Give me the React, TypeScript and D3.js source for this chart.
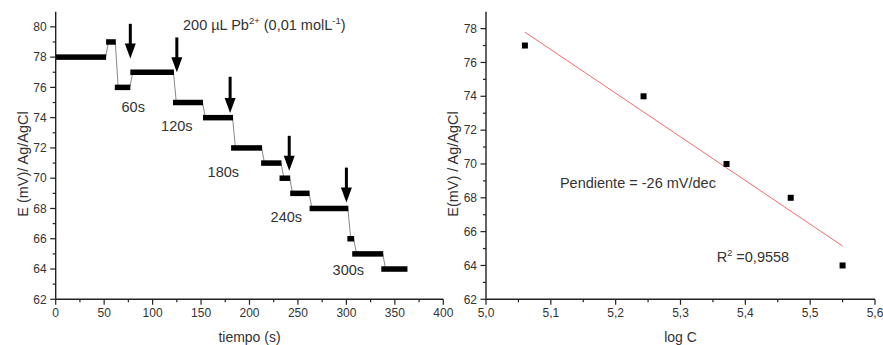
import React from "react";
import * as d3 from "d3";

// ---------- Left chart data ----------
const stepStart = [0, 52, 61, 77, 121, 152, 181, 212, 231, 242, 262, 301, 306, 336];
const stepEnd = [52, 62, 77, 122, 152, 183, 213, 233, 242, 262, 302, 308, 338, 363];
const stepValue = [78, 79, 76, 77, 75, 74, 72, 71, 70, 69, 68, 66, 65, 64];

const arrowTime = [77, 125, 180, 241, 300];
const arrowTop = [80.2, 79.3, 76.7, 72.8, 70.7];
const arrowTip = [77.9, 77.0, 74.3, 70.5, 68.4];

const timeLabels = ["60s", "120s", "180s", "240s", "300s"];
const timeLabelX = [80, 125, 173, 238, 302];
const timeLabelY = [74.7, 73.45, 70.4, 67.45, 63.95];

const leftXTicks = [0, 50, 100, 150, 200, 250, 300, 350, 400];
const leftYTicks = [62, 64, 66, 68, 70, 72, 74, 76, 78, 80];

// ---------- Right chart data ----------
const logC = [5.06, 5.243, 5.371, 5.47, 5.55];
const potential = [77, 74, 70, 68, 64];

const rightXTicks = [5.0, 5.1, 5.2, 5.3, 5.4, 5.5, 5.6];
const rightYTicks = [62, 64, 66, 68, 70, 72, 74, 76, 78];

const FONT = "'Liberation Sans', Arial, sans-serif";
const TXT = "#333";
const AX = "#222";

function fmtComma(v: number, digits: number) {
  return v.toFixed(digits).replace(".", ",");
}

function linearFit(xs: number[], ys: number[]) {
  const mx = d3.mean(xs)!;
  const my = d3.mean(ys)!;
  let sxy = 0, sxx = 0;
  xs.forEach((x, i) => {
    sxy += (x - mx) * (ys[i] - my);
    sxx += (x - mx) * (x - mx);
  });
  const slope = sxy / sxx;
  return { slope, intercept: my - slope * mx };
}

function Axes({ x, y, xTicks, xMinor, yTicks, yMinor, xFmt, yFmt }: any) {
  const [x0, x1] = x.range();
  const [y0, y1] = y.range();
  return (
    <g>
      <line x1={x0} x2={x0} y1={y0} y2={y1} stroke={AX} strokeWidth={1.4} />
      <line x1={x0} x2={x1} y1={y0} y2={y0} stroke={AX} strokeWidth={1.4} />
      {yMinor.map((t: number, i: number) => (
        <line key={"ym" + i} x1={x0 - 3} x2={x0} y1={y(t)} y2={y(t)} stroke={AX} strokeWidth={1.2} />
      ))}
      {yTicks.map((t: number, i: number) => (
        <g key={"y" + i}>
          <line x1={x0 - 5.5} x2={x0} y1={y(t)} y2={y(t)} stroke={AX} strokeWidth={1.2} />
          <text x={x0 - 9} y={y(t)} dy="0.35em" textAnchor="end" fontSize={12} fill={TXT} fontFamily={FONT}>
            {yFmt(t)}
          </text>
        </g>
      ))}
      {xMinor.map((t: number, i: number) => (
        <line key={"xm" + i} x1={x(t)} x2={x(t)} y1={y0} y2={y0 + 3} stroke={AX} strokeWidth={1.2} />
      ))}
      {xTicks.map((t: number, i: number) => (
        <g key={"x" + i}>
          <line x1={x(t)} x2={x(t)} y1={y0} y2={y0 + 5.5} stroke={AX} strokeWidth={1.2} />
          <text x={x(t)} y={y0 + 18} textAnchor="middle" fontSize={12} fill={TXT} fontFamily={FONT}>
            {xFmt(t)}
          </text>
        </g>
      ))}
    </g>
  );
}

export default function App() {
  // Left chart scales
  const xL = d3.scaleLinear().domain([0, 400]).range([55.7, 443.3]);
  const yL = d3.scaleLinear().domain([62, 81]).range([299.3, 11.7]);
  const leftXMinor = d3.range(25, 400, 50);
  const leftYMinor = d3.range(63, 81, 2);

  // Right chart scales
  const xR = d3.scaleLinear().domain([5.0, 5.6]).range([486, 875]);
  const yR = d3.scaleLinear().domain([62, 79]).range([299.3, 11.7]);
  const rightXMinor = d3.range(5.05, 5.6, 0.1);
  const rightYMinor = d3.range(63, 79, 2);

  const fit = linearFit(logC, potential);
  const fx0 = d3.min(logC)!;
  const fx1 = d3.max(logC)!;

  const barH = 5.5;

  return (
    <svg width={883} height={345} style={{ position: "absolute", left: 0, top: 0, background: "#fff" }}>
      <rect width={883} height={345} fill="#fff" />
      {/* ---------------- Left chart ---------------- */}
      {stepValue.slice(0, -1).map((v, i) => (
        <line
          key={"c" + i}
          x1={xL(stepEnd[i] - 0.5)}
          y1={yL(v)}
          x2={xL(stepEnd[i] + 2.5)}
          y2={yL(stepValue[i + 1])}
          stroke="#888"
          strokeWidth={1}
        />
      ))}
      {stepValue.map((v, i) => (
        <rect
          key={"b" + i}
          x={xL(stepStart[i])}
          y={yL(v) - barH / 2}
          width={xL(stepEnd[i]) - xL(stepStart[i])}
          height={barH}
          fill="#000"
        />
      ))}
      {arrowTime.map((t, i) => {
        const ax = xL(t);
        const yt = yL(arrowTop[i]);
        const yp = yL(arrowTip[i]);
        const headH = 15;
        const headW = 5.5;
        return (
          <g key={"a" + i}>
            <line x1={ax} x2={ax} y1={yt} y2={yp - headH + 1} stroke="#000" strokeWidth={3} />
            <path d={`M${ax - headW},${yp - headH} L${ax + headW},${yp - headH} L${ax},${yp} Z`} fill="#000" />
          </g>
        );
      })}
      {timeLabels.map((s, i) => (
        <text
          key={"tl" + i}
          x={xL(timeLabelX[i])}
          y={yL(timeLabelY[i])}
          dy="0.35em"
          textAnchor="middle"
          fontSize={14.5}
          fill={TXT}
          fontFamily={FONT}
        >
          {s}
        </text>
      ))}
      <text x={183} y={30} fontSize={14.5} fill={TXT} fontFamily={FONT}>
        200 µL Pb
        <tspan fontSize={9.5} dy={-6}>2+</tspan>
        <tspan dy={6}> (0,01 molL</tspan>
        <tspan fontSize={9.5} dy={-6}>-1</tspan>
        <tspan dy={6}>)</tspan>
      </text>
      <Axes
        x={xL}
        y={yL}
        xTicks={leftXTicks}
        xMinor={leftXMinor}
        yTicks={leftYTicks}
        yMinor={leftYMinor}
        xFmt={(t: number) => String(t)}
        yFmt={(t: number) => String(t)}
      />
      <text x={249.5} y={342} textAnchor="middle" fontSize={14} fill={TXT} fontFamily={FONT}>
        tiempo (s)
      </text>
      <text
        transform={`translate(27.5,164) rotate(-90)`}
        textAnchor="middle"
        fontSize={14.5}
        fill={TXT}
        fontFamily={FONT}
      >
        E (mV)/ Ag/AgCl
      </text>

      {/* ---------------- Right chart ---------------- */}
      <line
        x1={xR(fx0)}
        y1={yR(fit.intercept + fit.slope * fx0)}
        x2={xR(fx1)}
        y2={yR(fit.intercept + fit.slope * fx1)}
        stroke="#f26a6a"
        strokeWidth={1}
      />
      {logC.map((c, i) => (
        <rect key={"p" + i} x={xR(c) - 3} y={yR(potential[i]) - 3} width={6} height={6} fill="#000" />
      ))}
      <Axes
        x={xR}
        y={yR}
        xTicks={rightXTicks}
        xMinor={rightXMinor}
        yTicks={rightYTicks}
        yMinor={rightYMinor}
        xFmt={(t: number) => fmtComma(t, 1)}
        yFmt={(t: number) => String(t)}
      />
      <text x={xR(5.114)} y={yR(68.87)} dy="0.35em" fontSize={14.5} fill={TXT} fontFamily={FONT}>
        Pendiente = -26 mV/dec
      </text>
      <text x={xR(5.356)} y={yR(64.5)} dy="0.35em" fontSize={14.5} fill={TXT} fontFamily={FONT}>
        R<tspan fontSize={9} dy={-6}>2</tspan>
        <tspan dy={6}> =0,9558</tspan>
      </text>
      <text x={680.5} y={342} textAnchor="middle" fontSize={14} fill={TXT} fontFamily={FONT}>
        log C
      </text>
      <text
        transform={`translate(457.5,164) rotate(-90)`}
        textAnchor="middle"
        fontSize={14.5}
        fill={TXT}
        fontFamily={FONT}
      >
        E(mV) / Ag/AgCl
      </text>
    </svg>
  );
}
